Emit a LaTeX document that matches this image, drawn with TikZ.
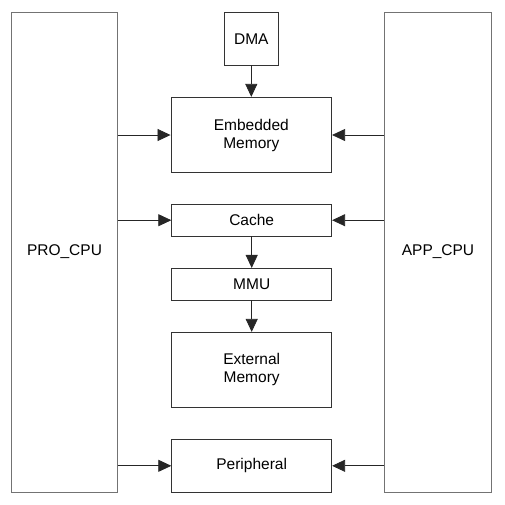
\documentclass[tikz,border=0pt]{standalone}
\usepackage{fontspec}
\setmainfont{Liberation Sans}
\usetikzlibrary{arrows.meta}
\begin{document}
\begin{tikzpicture}[x=1pt,y=-1pt,
  blk/.style={draw=black!80,line width=0.8pt,rectangle,inner sep=0pt,align=center,font=\fontsize{15.5}{18}\selectfont},
  cpu/.style={blk,draw=black!55},
  arr/.style={line width=0.8pt,draw=black!85,-{Triangle[length=13pt,width=12pt]}}]
\useasboundingbox (0,0) rectangle (505,504);
\node[cpu,minimum width=105.6pt,minimum height=480pt] (pro) at (64.5,252) {PRO\_CPU};
\node[cpu,minimum width=107.4pt,minimum height=480pt] (app) at (438,252) {APP\_CPU};
\node[blk,minimum width=54pt,minimum height=52.7pt] (dma) at (251.3,38.7) {DMA};
\node[blk,minimum width=160.7pt,minimum height=75.4pt] (emb) at (251.3,135) {Embedded\\Memory};
\node[blk,minimum width=160pt,minimum height=31.7pt] (cache) at (251.7,220.2) {Cache};
\node[blk,minimum width=160pt,minimum height=31.7pt] (mmu) at (251.7,284.2) {MMU};
\node[blk,minimum width=160pt,minimum height=75pt] (ext) at (251.7,369.8) {External\\Memory};
\node[blk,minimum width=160pt,minimum height=53pt] (peri) at (251.7,465.8) {Peripheral};
\draw[arr] (dma) -- (emb);
\draw[arr] (cache) -- (mmu);
\draw[arr] (mmu) -- (ext);
\draw[arr] (pro.east |- emb.west) -- (emb.west);
\draw[arr] (app.west |- emb.east) -- (emb.east);
\draw[arr] (pro.east |- cache.west) -- (cache.west);
\draw[arr] (app.west |- cache.east) -- (cache.east);
\draw[arr] (pro.east |- peri.west) -- (peri.west);
\draw[arr] (app.west |- peri.east) -- (peri.east);
\end{tikzpicture}
\end{document}
